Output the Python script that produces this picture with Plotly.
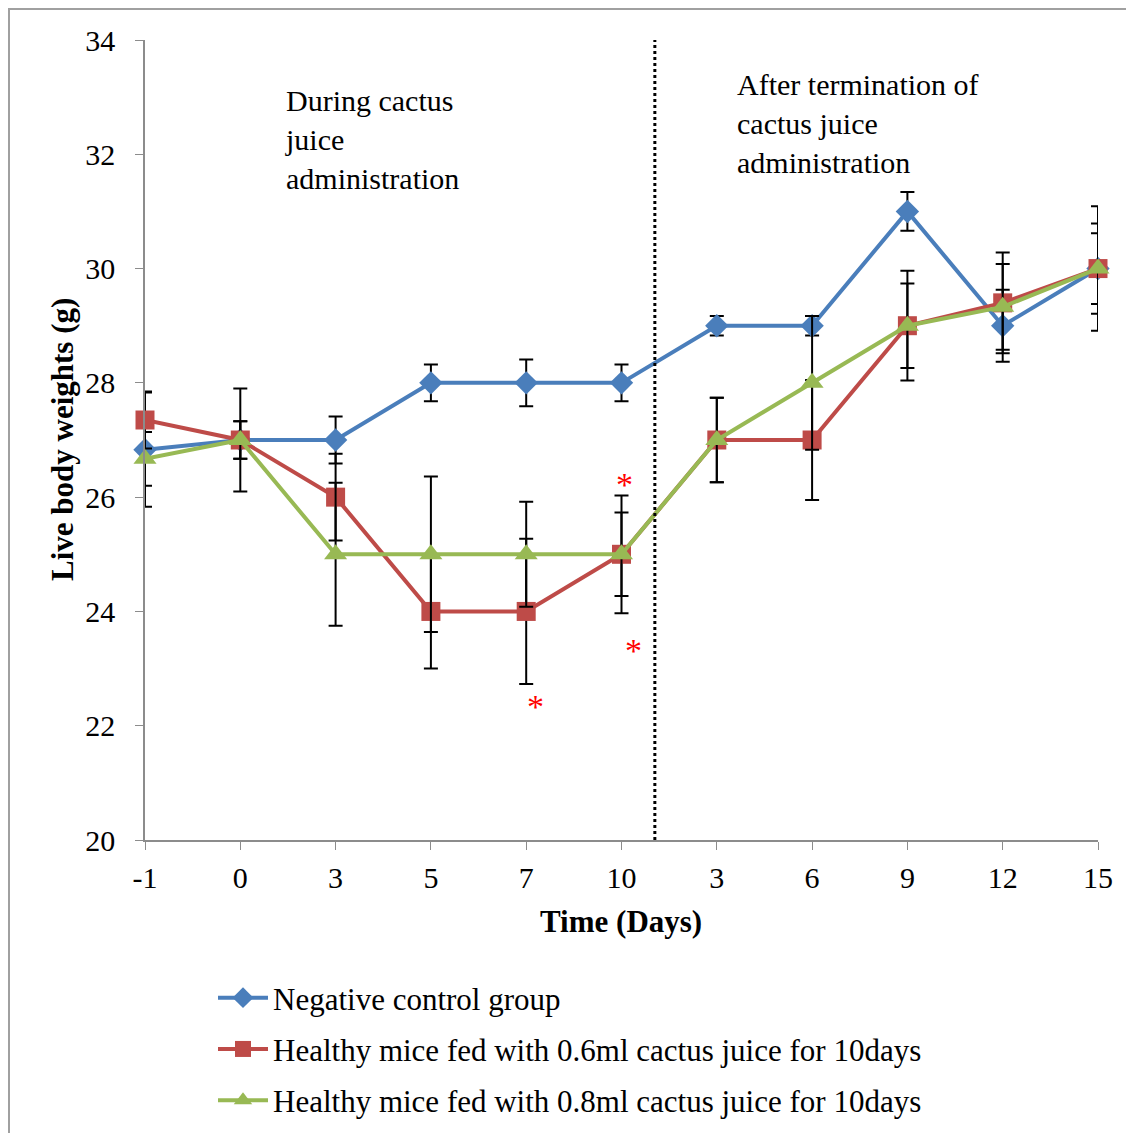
import plotly.graph_objects as go

# ---- data ----
day_labels = ["-1", "0", "3", "5", "7", "10", "3", "6", "9", "12", "15"]
positions = list(range(len(day_labels)))

control = [26.83, 27, 27, 28, 28, 28, 29, 29, 31, 29, 30]
control_err = [1.0, 0.33, 0.41, 0.32, 0.41, 0.32, 0.17, 0.17, 0.34, 0.63, 0.62]

juice06 = [27.35, 27, 26, 24, 24, 25, 27, 27, 29, 29.4, 30]
juice06_err = [0.5, 0.9, 0.76, 1.0, 1.27, 1.03, 0.74, 1.05, 0.96, 0.88, 1.09]

juice08 = [26.67, 27, 25, 25, 25, 25, 27, 28, 29, 29.33, 30]
juice08_err = [0.47, 0.33, 1.25, 1.36, 0.92, 0.73, 0.74, 1.17, 0.74, 0.75, 0.79]

series_names = [
    "Negative control group",
    "Healthy mice fed with 0.6ml cactus juice for 10days",
    "Healthy mice fed with 0.8ml cactus juice for 10days",
]

FONT = "Liberation Serif, Times New Roman, serif"
W, H = 1134, 1133
OFF = 8  # page body margin offset
# plot area in screen pixels (reference coordinates)
PX0, PX1, PY0, PY1 = 145, 1098, 40, 840
PW, PH = PX1 - PX0, PY1 - PY0
L, T = PX0 - OFF, PY0 - OFF
R = W + OFF - PX1
B = H + OFF - PY1


def px(x):
    return (x - PX0) / PW


def py(y):
    return (PY1 - y) / PH


fig = go.Figure()

styles = [
    dict(color="#4A7EBB", symbol="diamond", size=18),
    dict(color="#BE4B48", symbol="square", size=19),
    dict(color="#98B954", symbol="triangle-up", size=20),
]
for name, vals, errs, st, grp in zip(series_names, [control, juice06, juice08],
                                     [control_err, juice06_err, juice08_err], styles,
                                     ["g1", "g2", "g3"]):
    fig.add_trace(go.Scatter(
        x=positions, y=vals, name=name, mode="lines+markers",
        legendgroup=grp,
        line=dict(color=st["color"], width=4),
        marker=dict(color=st["color"], symbol=st["symbol"], size=st["size"],
                    line=dict(width=0)),
        error_y=dict(type="data", array=errs, visible=True, color="black",
                     thickness=2, width=7),
        cliponaxis=False,
    ))

# dotted separator
fig.add_shape(type="line", xref="x", yref="y", x0=5.35, x1=5.35, y0=20, y1=34,
              line=dict(color="black", width=3, dash="dot"))

# outer border
fig.add_shape(type="rect", xref="paper", yref="paper",
              x0=px(9), x1=px(1128), y0=py(1145), y1=py(9),
              line=dict(color="#A0A0A0", width=2), layer="below")

annotations = [
    dict(x=px(283), y=py(82), xref="paper", yref="paper",
         text="During cactus<br>juice<br>administration", showarrow=False,
         xanchor="left", yanchor="top", align="left",
         font=dict(family=FONT, size=30, color="black")),
    dict(x=px(735), y=py(66), xref="paper", yref="paper",
         text="After termination of<br>cactus juice<br>administration", showarrow=False,
         xanchor="left", yanchor="top", align="left",
         font=dict(family=FONT, size=30, color="black")),
    dict(x=5.03, y=26.23, xref="x", yref="y", text="*", showarrow=False,
         xanchor="center", yanchor="middle",
         font=dict(family=FONT, size=34, color="red")),
    dict(x=4.10, y=22.34, xref="x", yref="y", text="*", showarrow=False,
         xanchor="center", yanchor="middle",
         font=dict(family=FONT, size=34, color="red")),
    dict(x=5.13, y=23.31, xref="x", yref="y", text="*", showarrow=False,
         xanchor="center", yanchor="middle",
         font=dict(family=FONT, size=34, color="red")),
    dict(x=px(62), y=0.5, xref="paper", yref="paper",
         text="<b>Live body weights (g)</b>", showarrow=False, textangle=-90,
         xanchor="center", yanchor="middle",
         font=dict(family=FONT, size=31, color="black")),
    dict(x=px(621), y=py(921), xref="paper", yref="paper",
         text="<b>Time (Days)</b>", showarrow=False,
         xanchor="center", yanchor="middle",
         font=dict(family=FONT, size=31, color="black")),
]

fig.update_layout(
    width=W, height=H,
    margin=dict(l=L, r=R, t=T, b=B, autoexpand=False),
    paper_bgcolor="white", plot_bgcolor="white",
    font=dict(family=FONT, size=30, color="black"),
    showlegend=True,
    legend=dict(x=px(213), y=py(971), xanchor="left", yanchor="top",
                font=dict(family=FONT, size=31, color="black"),
                tracegroupgap=8, itemwidth=50, bgcolor="rgba(0,0,0,0)"),
    annotations=annotations,
    xaxis=dict(range=[0, 10], tickvals=positions, ticktext=day_labels,
               showgrid=False, zeroline=False, showline=True, linecolor="#8C8C8C",
               linewidth=1.5, ticks="outside", ticklen=8, tickcolor="#8C8C8C",
               ticklabelstandoff=2,
               tickfont=dict(family=FONT, size=30)),
    yaxis=dict(range=[20, 34], dtick=2, showgrid=False, zeroline=False,
               showline=True, linecolor="#8C8C8C", linewidth=1.5,
               ticks="outside", ticklen=8, tickcolor="#8C8C8C",
               ticklabelstandoff=14,
               tickfont=dict(family=FONT, size=30)),
)

fig.write_html("out.html")
